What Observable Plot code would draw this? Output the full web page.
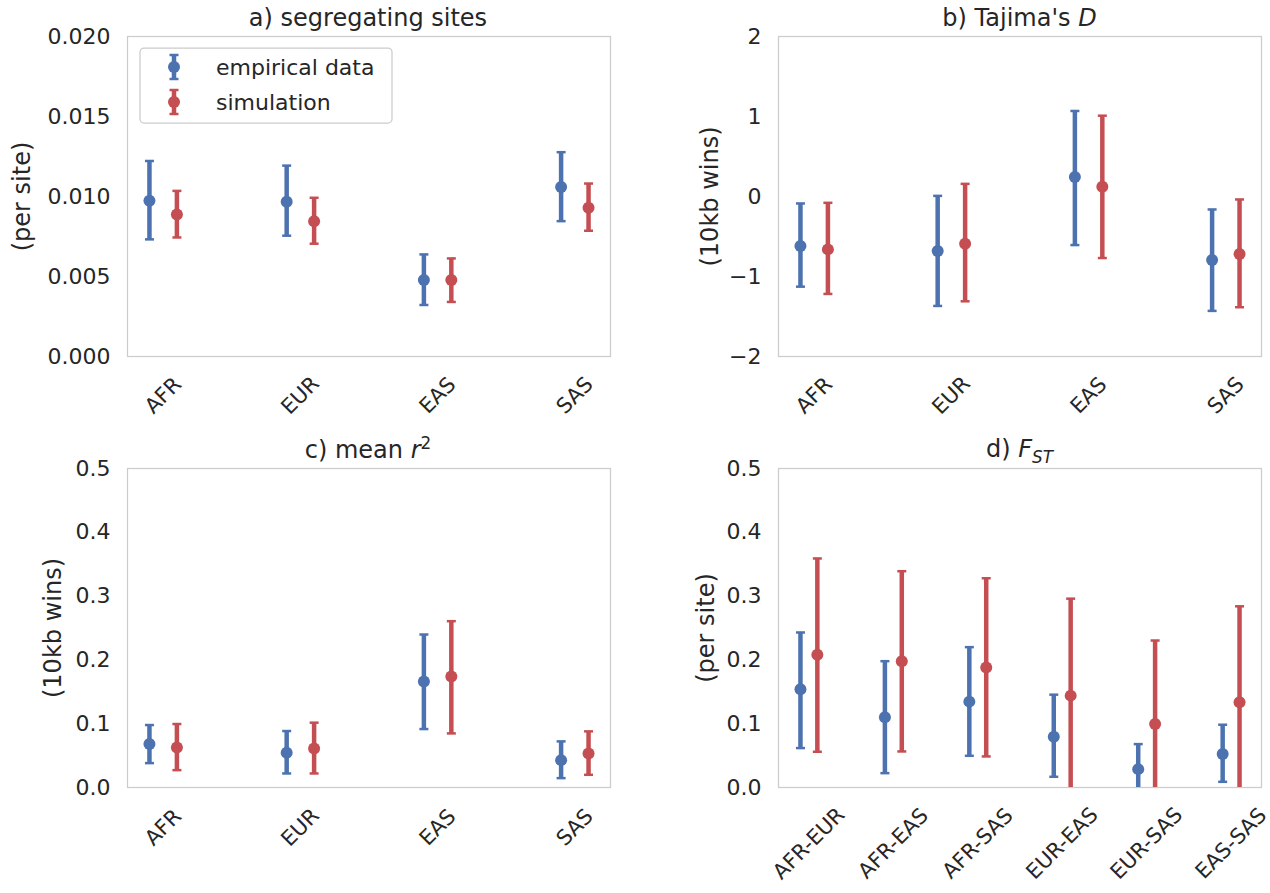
<!DOCTYPE html>
<html>
<head>
<meta charset="utf-8">
<script src="https://cdn.jsdelivr.net/npm/d3@7"></script>
<script src="https://cdn.jsdelivr.net/npm/@observablehq/plot@0.6"></script>
<style>
  html, body { margin: 0; padding: 0; background: white; }
  #root { position: relative; width: 1270px; height: 893px; font-family: "DejaVu Sans", sans-serif; color: #262626; }
  .panel { position: absolute; }
  .title { position: absolute; width: 400px; text-align: center; font-size: 24px; line-height: 28px; white-space: nowrap; }
  .title sub, .title sup { font-size: 70%; line-height: 0; }
</style>
</head>
<body>
<div id="root"></div>
<script>
// ---- data ----
const pops = ["AFR", "EUR", "EAS", "SAS"];
const pairs = ["AFR-EUR", "AFR-EAS", "AFR-SAS", "EUR-EAS", "EUR-SAS", "EAS-SAS"];
const series = ["empirical data", "simulation"];
const seriesColors = ["#4C72B0", "#C44E52"];

// a) segregating sites (per site)
const segEmpMean = [0.00973, 0.00967, 0.00478, 0.01060];
const segEmpLo   = [0.00732, 0.00755, 0.00322, 0.00846];
const segEmpHi   = [0.01222, 0.01193, 0.00638, 0.01277];
const segSimMean = [0.00888, 0.00846, 0.00478, 0.00929];
const segSimLo   = [0.00744, 0.00705, 0.00341, 0.00786];
const segSimHi   = [0.01035, 0.00992, 0.00613, 0.01081];

// b) Tajima's D
const tajEmpMean = [-0.620, -0.680, 0.245, -0.794];
const tajEmpLo   = [-1.127, -1.368, -0.607, -1.430];
const tajEmpHi   = [-0.087, 0.008, 1.069, -0.162];
const tajSimMean = [-0.661, -0.590, 0.121, -0.719];
const tajSimLo   = [-1.218, -1.310, -0.769, -1.384];
const tajSimHi   = [-0.079, 0.158, 1.010, -0.037];

// c) mean r^2
const r2EmpMean = [0.0680, 0.0545, 0.1660, 0.0429];
const r2EmpLo   = [0.0382, 0.0220, 0.0916, 0.0147];
const r2EmpHi   = [0.0979, 0.0885, 0.2398, 0.0723];
const r2SimMean = [0.0628, 0.0613, 0.1738, 0.0534];
const r2SimLo   = [0.0272, 0.0220, 0.0848, 0.0199];
const r2SimHi   = [0.0995, 0.1016, 0.2607, 0.0880];

// d) F_ST
const fstEmpMean = [0.1540, 0.1100, 0.1346, 0.0796, 0.0288, 0.0524];
const fstEmpLo   = [0.0618, 0.0225, 0.0497, 0.0168, -0.0105, 0.0089];
const fstEmpHi   = [0.2430, 0.1980, 0.2200, 0.1455, 0.0680, 0.0984];
const fstSimMean = [0.2080, 0.1980, 0.1880, 0.1440, 0.0995, 0.1335];
const fstSimLo   = [0.0560, 0.0565, 0.0487, -0.0080, -0.0310, -0.0170];
const fstSimHi   = [0.3590, 0.3390, 0.3280, 0.2960, 0.2304, 0.2840];

// ---- helpers ----
const dodge = 0.1;
function rows(cats, emp, sim) {
  const out = [];
  cats.forEach((c, i) => {
    out.push({i, x: i - dodge, series: series[0], mean: emp[0][i], lo: emp[1][i], hi: emp[2][i]});
    out.push({i, x: i + dodge, series: series[1], mean: sim[0][i], lo: sim[1][i], hi: sim[2][i]});
  });
  return out;
}
const capSymbol = {
  draw(context, size) {
    const w = Math.sqrt(size / Math.PI);
    context.moveTo(-w, 0);
    context.lineTo(w, 0);
  }
};

function panel(o) {
  const n = o.cats.length;
  const span = (n - 1) + 2 * dodge;
  const pad = 0.05 * span;
  return Plot.plot({
    width: o.width, height: o.height,
    marginLeft: o.ml, marginRight: o.mr, marginTop: o.mt, marginBottom: o.mb,
    style: {fontFamily: "DejaVu Sans", fontSize: "22px", color: "#262626", background: "white", overflow: "visible"},
    x: {domain: [-dodge - pad, n - 1 + dodge + pad]},
    y: {domain: o.yDomain},
    color: {domain: series, range: seriesColors},
    marks: [
      Plot.frame({stroke: "#cccccc", strokeWidth: 1.25}),
      Plot.axisY({ticks: o.yTicks, tickFormat: o.yFormat, tickSize: 0, tickPadding: 17, fontSize: 22, label: null}),
      Plot.axisX({ticks: d3.range(n), tickFormat: i => o.cats[i], tickSize: 0, tickPadding: o.xPad,
                  tickRotate: -45, textAnchor: "middle", lineAnchor: "middle", fontSize: 21, label: null}),
      Plot.link(o.rows, {x1: "x", x2: "x", y1: "lo", y2: "hi", stroke: "series", strokeWidth: 4.5, clip: true}),
      Plot.dot(o.rows, {x: "x", y: "lo", symbol: capSymbol, r: 4.5, stroke: "series", strokeWidth: 2.5, clip: true}),
      Plot.dot(o.rows, {x: "x", y: "hi", symbol: capSymbol, r: 4.5, stroke: "series", strokeWidth: 2.5, clip: true}),
      Plot.dot(o.rows, {x: "x", y: "mean", r: 6, fill: "series", stroke: null}),
      Plot.text([o.ylabel], {frameAnchor: "left", dx: o.labelDx, rotate: -90, text: d => d,
                             fontSize: 24, textAnchor: "middle", lineAnchor: "middle", fill: "#262626"})
    ]
  });
}

const root = document.getElementById("root");
function place(el, left, top) {
  el.classList.add("panel");
  el.style.left = left + "px";
  el.style.top = top + "px";
  root.appendChild(el);
}

const f3 = d3.format(".3f"), f1 = d3.format(".1f"), fd = d3.format("d");

place(panel({
  cats: pops, rows: rows(pops, [segEmpMean, segEmpLo, segEmpHi], [segSimMean, segSimLo, segSimHi]),
  width: 635, height: 430, ml: 127, mr: 25, mt: 36, mb: 74,
  yDomain: [0, 0.02], yTicks: [0, 0.005, 0.01, 0.015, 0.02], yFormat: f3,
  xPad: 39, ylabel: "(per site)", labelDx: -105
}), 0, 0);

place(panel({
  cats: pops, rows: rows(pops, [tajEmpMean, tajEmpLo, tajEmpHi], [tajSimMean, tajSimLo, tajSimHi]),
  width: 635, height: 430, ml: 143, mr: 9, mt: 36, mb: 74,
  yDomain: [-2, 2], yTicks: [-2, -1, 0, 1, 2], yFormat: fd,
  xPad: 39, ylabel: "(10kb wins)", labelDx: -68
}), 635, 0);

place(panel({
  cats: pops, rows: rows(pops, [r2EmpMean, r2EmpLo, r2EmpHi], [r2SimMean, r2SimLo, r2SimHi]),
  width: 635, height: 463, ml: 127, mr: 25, mt: 38, mb: 106,
  yDomain: [0, 0.5], yTicks: [0, 0.1, 0.2, 0.3, 0.4, 0.5], yFormat: f1,
  xPad: 40, ylabel: "(10kb wins)", labelDx: -74
}), 0, 430);

place(panel({
  cats: pairs, rows: rows(pairs, [fstEmpMean, fstEmpLo, fstEmpHi], [fstSimMean, fstSimLo, fstSimHi]),
  width: 635, height: 463, ml: 143, mr: 9, mt: 38, mb: 106,
  yDomain: [0, 0.5], yTicks: [0, 0.1, 0.2, 0.3, 0.4, 0.5], yFormat: f1,
  xPad: 56, ylabel: "(per site)", labelDx: -72
}), 635, 430);

// titles
const titles = [
  {html: "a) segregating sites", cx: 368, cy: 18},
  {html: "b) Tajima's <i>D</i>", cx: 1019.5, cy: 18},
  {html: "c) mean <i>r</i><sup>2</sup>", cx: 368, cy: 450},
  {html: "d) <i>F<sub>ST</sub></i>", cx: 1019.5, cy: 449}
];
titles.forEach(t => {
  const d = document.createElement("div");
  d.className = "title";
  d.innerHTML = t.html;
  d.style.left = (t.cx - 200) + "px";
  d.style.top = (t.cy - 14) + "px";
  root.appendChild(d);
});

// legend (panel a)
const leg = d3.select(root).append("svg")
  .attr("width", 254).attr("height", 77)
  .style("position", "absolute").style("left", "139px").style("top", "47px");
leg.append("rect").attr("x", 1).attr("y", 1).attr("width", 252).attr("height", 75)
  .attr("rx", 4).attr("fill", "white").attr("fill-opacity", 0.8).attr("stroke", "#cccccc").attr("stroke-width", 1.25);
series.forEach((s, k) => {
  const g = leg.append("g").attr("transform", `translate(35,${20 + 35 * k})`);
  const c = seriesColors[k];
  g.append("line").attr("x1", 0).attr("x2", 0).attr("y1", -12).attr("y2", 12).attr("stroke", c).attr("stroke-width", 4.5);
  g.append("line").attr("x1", -4.5).attr("x2", 4.5).attr("y1", -12).attr("y2", -12).attr("stroke", c).attr("stroke-width", 2.5);
  g.append("line").attr("x1", -4.5).attr("x2", 4.5).attr("y1", 12).attr("y2", 12).attr("stroke", c).attr("stroke-width", 2.5);
  g.append("circle").attr("r", 6).attr("fill", c);
  g.append("text").attr("x", 42).attr("y", 0).attr("dy", "0.35em")
    .attr("font-family", "DejaVu Sans").attr("font-size", 22).attr("fill", "#262626").text(s);
});
</script>
</body>
</html>
